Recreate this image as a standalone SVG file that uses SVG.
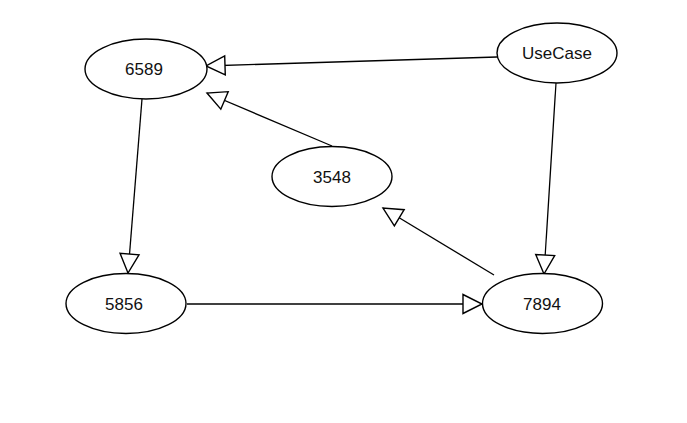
<svg xmlns="http://www.w3.org/2000/svg" width="687" height="423" viewBox="0 0 687 423">
  <style>
    .node ellipse { fill: #ffffff; stroke: #000000; stroke-width: 1.4; }
    .node text { font-family: "Liberation Sans", Arial, sans-serif; font-size: 17px; fill: #111111; text-anchor: middle; }
    .edge { stroke: #000000; stroke-width: 1.3; fill: none; marker-end: url(#tri); }
  </style>
  <defs>
    <marker id="tri" markerUnits="userSpaceOnUse" markerWidth="24" markerHeight="24" refX="20" refY="10" orient="auto" overflow="visible">
      <path d="M1,0.5 L20,10 L1,19.5 Z" fill="#ffffff" stroke="#000000" stroke-width="1.4" stroke-linejoin="miter"/>
    </marker>
  </defs>
  <rect x="0" y="0" width="687" height="423" fill="#ffffff"/>
  <g id="connectors">
    <line class="edge" x1="497" y1="57" x2="206" y2="66"/>
    <line class="edge" x1="332" y1="146" x2="207" y2="93"/>
    <line class="edge" x1="142" y1="99" x2="128" y2="273"/>
    <line class="edge" x1="556" y1="83" x2="544" y2="274"/>
    <line class="edge" x1="494" y1="275" x2="383" y2="208"/>
    <line class="edge" x1="187" y1="304" x2="482" y2="304"/>
  </g>
  <g id="node-6589" class="node">
    <ellipse cx="146" cy="69" rx="61" ry="30"/>
    <text x="144" y="75">6589</text>
  </g>
  <g id="node-usecase" class="node">
    <ellipse cx="557" cy="53" rx="60" ry="30"/>
    <text x="557" y="59">UseCase</text>
  </g>
  <g id="node-3548" class="node">
    <ellipse cx="332" cy="176.5" rx="60" ry="30"/>
    <text x="332" y="182.5">3548</text>
  </g>
  <g id="node-7894" class="node">
    <ellipse cx="542.5" cy="303.5" rx="60" ry="30"/>
    <text x="542" y="309.5">7894</text>
  </g>
  <g id="node-5856" class="node">
    <ellipse cx="126" cy="303.5" rx="60" ry="30"/>
    <text x="124" y="309.5">5856</text>
  </g>
</svg>
